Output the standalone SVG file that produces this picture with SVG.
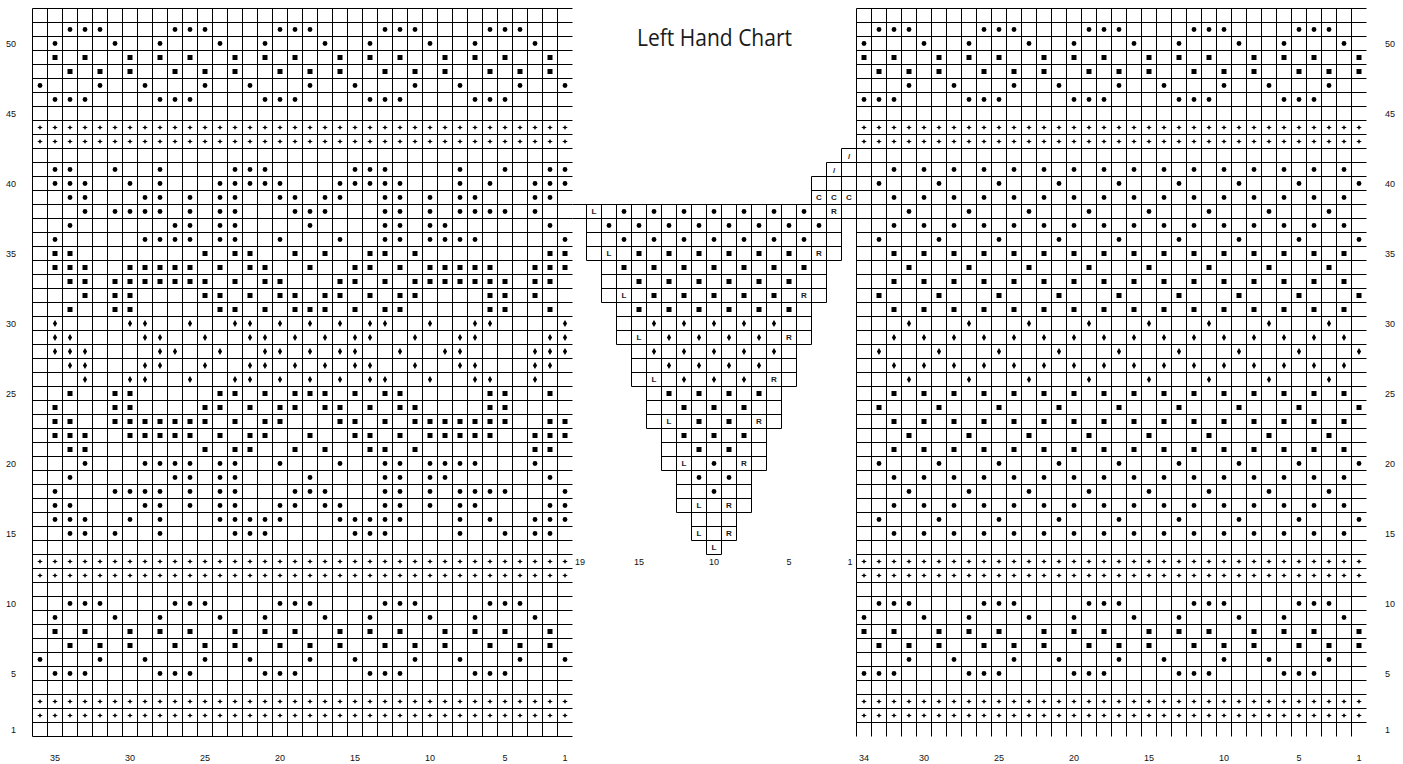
<svg xmlns="http://www.w3.org/2000/svg" xmlns:xlink="http://www.w3.org/1999/xlink" width="1403" height="764" viewBox="0 0 1403 764">
<style>
.g{fill:none;stroke:#000;stroke-width:1}
.lb{font-family:"Liberation Sans",Arial,sans-serif;font-size:9px;fill:#111}
.le{text-anchor:end}
.lc{text-anchor:middle}
.t{font-family:"Liberation Sans",Arial,sans-serif;font-size:8px;font-weight:bold;fill:#1a1a1a;text-anchor:middle}
.ti{font-family:"Open Sans","Noto Sans",sans-serif;font-size:23px;fill:#1a1a1a}
</style>
<defs>
<circle id="d" r="2.4"/>
<rect id="s" x="-2.5" y="-2.5" width="5" height="5"/>
<path id="v" d="M0-3.4L2.1 0 0 3.4-2.1 0Z"/>
<path id="x" d="M-2.9 0L-.9-.8 0-2.6.9-.8 2.9 0 .9.8 0 2.6-.9.8Z"/>
<g id="x6"><use href="#x"/><use href="#x" x="15"/><use href="#x" x="30"/><use href="#x" x="45"/><use href="#x" x="60"/><use href="#x" x="75"/></g>
<g id="xL"><use href="#x6" x="40"/><use href="#x6" x="130"/><use href="#x6" x="220"/><use href="#x6" x="310"/><use href="#x6" x="400"/><use href="#x6" x="490"/></g>
<g id="xR"><use href="#x6" x="864"/><use href="#x6" x="954"/><use href="#x6" x="1044"/><use href="#x6" x="1134"/><use href="#x6" x="1224"/><use href="#x" x="1314"/><use href="#x" x="1329"/><use href="#x" x="1344"/><use href="#x" x="1359"/></g>
<g id="mL">
<use href="#d" x="30"/><use href="#d" x="45"/><use href="#d" x="60"/>
<use href="#d" x="15" y="14"/><use href="#d" x="75" y="14"/>
<use href="#s" x="15" y="28"/><use href="#s" x="45" y="28"/><use href="#s" x="90" y="28"/>
<use href="#s" x="30" y="42"/><use href="#s" x="60" y="42"/><use href="#s" x="90" y="42"/>
<use href="#d" y="56"/><use href="#d" x="60" y="56"/>
<use href="#d" x="15" y="70"/><use href="#d" x="30" y="70"/><use href="#d" x="45" y="70"/>
</g>
<g id="bandL"><use href="#mL" x="40"/><use href="#mL" x="145"/><use href="#mL" x="250"/><use href="#mL" x="355"/><use href="#mL" x="460"/><use href="#d" x="565" y="56"/></g>
<g id="mR">
<use href="#d" x="15"/><use href="#d" x="30"/><use href="#d" x="45"/>
<use href="#d" y="14"/><use href="#d" x="60" y="14"/>
<use href="#s" y="28"/><use href="#s" x="30" y="28"/><use href="#s" x="75" y="28"/>
<use href="#s" x="15" y="42"/><use href="#s" x="45" y="42"/><use href="#s" x="75" y="42"/>
<use href="#d" x="45" y="56"/><use href="#d" x="90" y="56"/>
<use href="#d" y="70"/><use href="#d" x="15" y="70"/><use href="#d" x="30" y="70"/>
</g>
<g id="bandR"><use href="#mR" x="864"/><use href="#mR" x="969"/><use href="#mR" x="1074"/><use href="#mR" x="1179"/>
<use href="#d" x="1299"/><use href="#d" x="1314"/><use href="#d" x="1329"/>
<use href="#d" x="1284" y="14"/><use href="#d" x="1344" y="14"/>
<use href="#s" x="1284" y="28"/><use href="#s" x="1314" y="28"/><use href="#s" x="1359" y="28"/>
<use href="#s" x="1299" y="42"/><use href="#s" x="1329" y="42"/><use href="#s" x="1359" y="42"/>
<use href="#d" x="1329" y="56"/>
<use href="#d" x="1284" y="70"/><use href="#d" x="1299" y="70"/><use href="#d" x="1314" y="70"/>
</g>
<g id="eD"><use href="#d" x="894"/><use href="#d" x="924"/><use href="#d" x="954"/><use href="#d" x="984"/><use href="#d" x="1014"/><use href="#d" x="1044"/><use href="#d" x="1074"/><use href="#d" x="1104"/><use href="#d" x="1134"/><use href="#d" x="1164"/><use href="#d" x="1194"/><use href="#d" x="1224"/><use href="#d" x="1254"/><use href="#d" x="1284"/><use href="#d" x="1314"/><use href="#d" x="1344"/></g>
<g id="aD"><use href="#d" x="879"/><use href="#d" x="939"/><use href="#d" x="999"/><use href="#d" x="1059"/><use href="#d" x="1119"/><use href="#d" x="1179"/><use href="#d" x="1239"/><use href="#d" x="1299"/><use href="#d" x="1359"/></g>
<g id="bD"><use href="#d" x="909"/><use href="#d" x="969"/><use href="#d" x="1029"/><use href="#d" x="1089"/><use href="#d" x="1149"/><use href="#d" x="1209"/><use href="#d" x="1269"/><use href="#d" x="1329"/></g>
<g id="eS"><use href="#s" x="894"/><use href="#s" x="924"/><use href="#s" x="954"/><use href="#s" x="984"/><use href="#s" x="1014"/><use href="#s" x="1044"/><use href="#s" x="1074"/><use href="#s" x="1104"/><use href="#s" x="1134"/><use href="#s" x="1164"/><use href="#s" x="1194"/><use href="#s" x="1224"/><use href="#s" x="1254"/><use href="#s" x="1284"/><use href="#s" x="1314"/><use href="#s" x="1344"/></g>
<g id="aS"><use href="#s" x="879"/><use href="#s" x="939"/><use href="#s" x="999"/><use href="#s" x="1059"/><use href="#s" x="1119"/><use href="#s" x="1179"/><use href="#s" x="1239"/><use href="#s" x="1299"/><use href="#s" x="1359"/></g>
<g id="bS"><use href="#s" x="909"/><use href="#s" x="969"/><use href="#s" x="1029"/><use href="#s" x="1089"/><use href="#s" x="1149"/><use href="#s" x="1209"/><use href="#s" x="1269"/><use href="#s" x="1329"/></g>
<g id="eV"><use href="#v" x="894"/><use href="#v" x="924"/><use href="#v" x="954"/><use href="#v" x="984"/><use href="#v" x="1014"/><use href="#v" x="1044"/><use href="#v" x="1074"/><use href="#v" x="1104"/><use href="#v" x="1134"/><use href="#v" x="1164"/><use href="#v" x="1194"/><use href="#v" x="1224"/><use href="#v" x="1254"/><use href="#v" x="1284"/><use href="#v" x="1314"/><use href="#v" x="1344"/></g>
<g id="aV"><use href="#v" x="879"/><use href="#v" x="939"/><use href="#v" x="999"/><use href="#v" x="1059"/><use href="#v" x="1119"/><use href="#v" x="1179"/><use href="#v" x="1239"/><use href="#v" x="1299"/><use href="#v" x="1359"/></g>
<g id="bV"><use href="#v" x="909"/><use href="#v" x="969"/><use href="#v" x="1029"/><use href="#v" x="1089"/><use href="#v" x="1149"/><use href="#v" x="1209"/><use href="#v" x="1269"/><use href="#v" x="1329"/></g>
</defs>
<rect width="1403" height="764" fill="#fff"/>

<g id="title"><text class="ti" x="637" y="46" textLength="155" lengthAdjust="spacingAndGlyphs">Left Hand Chart</text></g>

<g id="left-chart">
<path class="g" d="M32.5 8.5v728m15-728v728m15-728v728m15-728v728m15-728v728m15-728v728m15-728v728m15-728v728m15-728v728m15-728v728m15-728v728m15-728v728m15-728v728m15-728v728m15-728v728m15-728v728m15-728v728m15-728v728m15-728v728m15-728v728m15-728v728m15-728v728m15-728v728m15-728v728m15-728v728m15-728v728m15-728v728m15-728v728m15-728v728m15-728v728m15-728v728m15-728v728m15-728v728m15-728v728m15-728v728m15-728v728"/>
<path class="g" d="M32.5 8.5h540m-540 14h540m-540 14h540m-540 14h540m-540 14h540m-540 14h540m-540 14h540m-540 14h540m-540 14h540m-540 14h540m-540 14h540m-540 14h540m-540 14h540m-540 14h540m-540 14h540m-540 14h540m-540 14h540m-540 14h540m-540 14h540m-540 14h540m-540 14h540m-540 14h540m-540 14h540m-540 14h540m-540 14h540m-540 14h540m-540 14h540m-540 14h540m-540 14h540m-540 14h540m-540 14h540m-540 14h540m-540 14h540m-540 14h540m-540 14h540m-540 14h540m-540 14h540m-540 14h540m-540 14h540m-540 14h540m-540 14h540m-540 14h540m-540 14h540m-540 14h540m-540 14h540m-540 14h540m-540 14h540m-540 14h540m-540 14h540m-540 14h540m-540 14h540m-540 14h540m-540 14h540"/>
<use href="#bandL" y="29.5"/>
<use href="#bandL" y="603.5"/>
<use href="#xL" y="127.5"/><use href="#xL" y="141.5"/>
<use href="#xL" y="561.5"/><use href="#xL" y="575.5"/>
<use href="#xL" y="701.5"/><use href="#xL" y="715.5"/>
<g transform="translate(0,169.5)"><use href="#d" x="55"/><use href="#d" x="70"/><use href="#d" x="115"/><use href="#d" x="160"/><use href="#d" x="235"/><use href="#d" x="250"/><use href="#d" x="265"/><use href="#d" x="355"/><use href="#d" x="370"/><use href="#d" x="385"/><use href="#d" x="460"/><use href="#d" x="505"/><use href="#d" x="550"/><use href="#d" x="565"/></g>
<g transform="translate(0,183.5)"><use href="#d" x="55"/><use href="#d" x="70"/><use href="#d" x="85"/><use href="#d" x="130"/><use href="#d" x="160"/><use href="#d" x="220"/><use href="#d" x="235"/><use href="#d" x="250"/><use href="#d" x="265"/><use href="#d" x="280"/><use href="#d" x="340"/><use href="#d" x="355"/><use href="#d" x="370"/><use href="#d" x="385"/><use href="#d" x="400"/><use href="#d" x="460"/><use href="#d" x="490"/><use href="#d" x="535"/><use href="#d" x="550"/><use href="#d" x="565"/></g>
<g transform="translate(0,197.5)"><use href="#d" x="70"/><use href="#d" x="85"/><use href="#d" x="145"/><use href="#d" x="160"/><use href="#d" x="190"/><use href="#d" x="220"/><use href="#d" x="235"/><use href="#d" x="280"/><use href="#d" x="295"/><use href="#d" x="325"/><use href="#d" x="340"/><use href="#d" x="385"/><use href="#d" x="400"/><use href="#d" x="430"/><use href="#d" x="460"/><use href="#d" x="475"/><use href="#d" x="535"/><use href="#d" x="550"/></g>
<g transform="translate(0,211.5)"><use href="#d" x="85"/><use href="#d" x="115"/><use href="#d" x="130"/><use href="#d" x="145"/><use href="#d" x="160"/><use href="#d" x="190"/><use href="#d" x="220"/><use href="#d" x="235"/><use href="#d" x="295"/><use href="#d" x="310"/><use href="#d" x="325"/><use href="#d" x="385"/><use href="#d" x="400"/><use href="#d" x="430"/><use href="#d" x="460"/><use href="#d" x="475"/><use href="#d" x="490"/><use href="#d" x="505"/><use href="#d" x="535"/></g>
<g transform="translate(0,225.5)"><use href="#d" x="70"/><use href="#d" x="175"/><use href="#d" x="190"/><use href="#d" x="220"/><use href="#d" x="235"/><use href="#d" x="310"/><use href="#d" x="385"/><use href="#d" x="400"/><use href="#d" x="430"/><use href="#d" x="445"/><use href="#d" x="550"/></g>
<g transform="translate(0,239.5)"><use href="#d" x="55"/><use href="#d" x="145"/><use href="#d" x="160"/><use href="#d" x="175"/><use href="#d" x="190"/><use href="#d" x="220"/><use href="#d" x="235"/><use href="#d" x="280"/><use href="#d" x="340"/><use href="#d" x="385"/><use href="#d" x="400"/><use href="#d" x="430"/><use href="#d" x="445"/><use href="#d" x="460"/><use href="#d" x="475"/><use href="#d" x="565"/></g>
<g transform="translate(0,253.5)"><use href="#s" x="55"/><use href="#s" x="70"/><use href="#s" x="205"/><use href="#s" x="235"/><use href="#s" x="250"/><use href="#s" x="295"/><use href="#s" x="325"/><use href="#s" x="370"/><use href="#s" x="385"/><use href="#s" x="415"/><use href="#s" x="550"/><use href="#s" x="565"/></g>
<g transform="translate(0,267.5)"><use href="#s" x="55"/><use href="#s" x="70"/><use href="#s" x="85"/><use href="#s" x="130"/><use href="#s" x="145"/><use href="#s" x="160"/><use href="#s" x="175"/><use href="#s" x="190"/><use href="#s" x="220"/><use href="#s" x="250"/><use href="#s" x="265"/><use href="#s" x="310"/><use href="#s" x="355"/><use href="#s" x="370"/><use href="#s" x="400"/><use href="#s" x="430"/><use href="#s" x="445"/><use href="#s" x="460"/><use href="#s" x="475"/><use href="#s" x="490"/><use href="#s" x="535"/><use href="#s" x="550"/><use href="#s" x="565"/></g>
<g transform="translate(0,281.5)"><use href="#s" x="70"/><use href="#s" x="85"/><use href="#s" x="115"/><use href="#s" x="130"/><use href="#s" x="145"/><use href="#s" x="160"/><use href="#s" x="175"/><use href="#s" x="190"/><use href="#s" x="205"/><use href="#s" x="235"/><use href="#s" x="265"/><use href="#s" x="280"/><use href="#s" x="340"/><use href="#s" x="355"/><use href="#s" x="385"/><use href="#s" x="415"/><use href="#s" x="430"/><use href="#s" x="445"/><use href="#s" x="460"/><use href="#s" x="475"/><use href="#s" x="490"/><use href="#s" x="505"/><use href="#s" x="535"/><use href="#s" x="550"/></g>
<g transform="translate(0,295.5)"><use href="#s" x="85"/><use href="#s" x="115"/><use href="#s" x="130"/><use href="#s" x="205"/><use href="#s" x="220"/><use href="#s" x="250"/><use href="#s" x="280"/><use href="#s" x="295"/><use href="#s" x="325"/><use href="#s" x="340"/><use href="#s" x="370"/><use href="#s" x="400"/><use href="#s" x="415"/><use href="#s" x="490"/><use href="#s" x="505"/><use href="#s" x="535"/></g>
<g transform="translate(0,309.5)"><use href="#s" x="70"/><use href="#s" x="115"/><use href="#s" x="130"/><use href="#s" x="220"/><use href="#s" x="235"/><use href="#s" x="265"/><use href="#s" x="295"/><use href="#s" x="310"/><use href="#s" x="325"/><use href="#s" x="355"/><use href="#s" x="385"/><use href="#s" x="400"/><use href="#s" x="490"/><use href="#s" x="505"/><use href="#s" x="550"/></g>
<g transform="translate(0,323.5)"><use href="#v" x="55"/><use href="#v" x="130"/><use href="#v" x="145"/><use href="#v" x="190"/><use href="#v" x="235"/><use href="#v" x="250"/><use href="#v" x="280"/><use href="#v" x="310"/><use href="#v" x="340"/><use href="#v" x="370"/><use href="#v" x="385"/><use href="#v" x="430"/><use href="#v" x="475"/><use href="#v" x="490"/><use href="#v" x="565"/></g>
<g transform="translate(0,337.5)"><use href="#v" x="55"/><use href="#v" x="70"/><use href="#v" x="145"/><use href="#v" x="160"/><use href="#v" x="205"/><use href="#v" x="250"/><use href="#v" x="265"/><use href="#v" x="295"/><use href="#v" x="325"/><use href="#v" x="355"/><use href="#v" x="370"/><use href="#v" x="415"/><use href="#v" x="460"/><use href="#v" x="475"/><use href="#v" x="550"/><use href="#v" x="565"/></g>
<g transform="translate(0,351.5)"><use href="#v" x="55"/><use href="#v" x="70"/><use href="#v" x="85"/><use href="#v" x="160"/><use href="#v" x="175"/><use href="#v" x="220"/><use href="#v" x="265"/><use href="#v" x="280"/><use href="#v" x="310"/><use href="#v" x="340"/><use href="#v" x="355"/><use href="#v" x="400"/><use href="#v" x="445"/><use href="#v" x="460"/><use href="#v" x="535"/><use href="#v" x="550"/><use href="#v" x="565"/></g>
<g transform="translate(0,365.5)"><use href="#v" x="70"/><use href="#v" x="85"/><use href="#v" x="145"/><use href="#v" x="160"/><use href="#v" x="205"/><use href="#v" x="250"/><use href="#v" x="265"/><use href="#v" x="295"/><use href="#v" x="325"/><use href="#v" x="355"/><use href="#v" x="370"/><use href="#v" x="415"/><use href="#v" x="460"/><use href="#v" x="475"/><use href="#v" x="535"/><use href="#v" x="550"/></g>
<g transform="translate(0,379.5)"><use href="#v" x="85"/><use href="#v" x="130"/><use href="#v" x="145"/><use href="#v" x="190"/><use href="#v" x="235"/><use href="#v" x="250"/><use href="#v" x="280"/><use href="#v" x="310"/><use href="#v" x="340"/><use href="#v" x="370"/><use href="#v" x="385"/><use href="#v" x="430"/><use href="#v" x="475"/><use href="#v" x="490"/><use href="#v" x="535"/></g>
<g transform="translate(0,393.5)"><use href="#s" x="70"/><use href="#s" x="115"/><use href="#s" x="130"/><use href="#s" x="220"/><use href="#s" x="235"/><use href="#s" x="265"/><use href="#s" x="295"/><use href="#s" x="310"/><use href="#s" x="325"/><use href="#s" x="355"/><use href="#s" x="385"/><use href="#s" x="400"/><use href="#s" x="490"/><use href="#s" x="505"/><use href="#s" x="550"/></g>
<g transform="translate(0,407.5)"><use href="#s" x="55"/><use href="#s" x="115"/><use href="#s" x="130"/><use href="#s" x="205"/><use href="#s" x="220"/><use href="#s" x="250"/><use href="#s" x="280"/><use href="#s" x="295"/><use href="#s" x="325"/><use href="#s" x="340"/><use href="#s" x="370"/><use href="#s" x="400"/><use href="#s" x="415"/><use href="#s" x="490"/><use href="#s" x="505"/></g>
<g transform="translate(0,421.5)"><use href="#s" x="55"/><use href="#s" x="70"/><use href="#s" x="115"/><use href="#s" x="130"/><use href="#s" x="145"/><use href="#s" x="160"/><use href="#s" x="175"/><use href="#s" x="190"/><use href="#s" x="205"/><use href="#s" x="235"/><use href="#s" x="265"/><use href="#s" x="280"/><use href="#s" x="340"/><use href="#s" x="355"/><use href="#s" x="385"/><use href="#s" x="415"/><use href="#s" x="430"/><use href="#s" x="445"/><use href="#s" x="460"/><use href="#s" x="475"/><use href="#s" x="490"/><use href="#s" x="505"/><use href="#s" x="550"/><use href="#s" x="565"/></g>
<g transform="translate(0,435.5)"><use href="#s" x="55"/><use href="#s" x="70"/><use href="#s" x="85"/><use href="#s" x="130"/><use href="#s" x="145"/><use href="#s" x="160"/><use href="#s" x="175"/><use href="#s" x="190"/><use href="#s" x="220"/><use href="#s" x="250"/><use href="#s" x="265"/><use href="#s" x="310"/><use href="#s" x="355"/><use href="#s" x="370"/><use href="#s" x="400"/><use href="#s" x="430"/><use href="#s" x="445"/><use href="#s" x="460"/><use href="#s" x="475"/><use href="#s" x="490"/><use href="#s" x="535"/><use href="#s" x="550"/><use href="#s" x="565"/></g>
<g transform="translate(0,449.5)"><use href="#s" x="70"/><use href="#s" x="85"/><use href="#s" x="205"/><use href="#s" x="235"/><use href="#s" x="250"/><use href="#s" x="295"/><use href="#s" x="325"/><use href="#s" x="370"/><use href="#s" x="385"/><use href="#s" x="415"/><use href="#s" x="535"/><use href="#s" x="550"/></g>
<g transform="translate(0,463.5)"><use href="#d" x="85"/><use href="#d" x="145"/><use href="#d" x="160"/><use href="#d" x="175"/><use href="#d" x="190"/><use href="#d" x="220"/><use href="#d" x="235"/><use href="#d" x="280"/><use href="#d" x="340"/><use href="#d" x="385"/><use href="#d" x="400"/><use href="#d" x="430"/><use href="#d" x="445"/><use href="#d" x="460"/><use href="#d" x="475"/><use href="#d" x="535"/></g>
<g transform="translate(0,477.5)"><use href="#d" x="70"/><use href="#d" x="175"/><use href="#d" x="190"/><use href="#d" x="220"/><use href="#d" x="235"/><use href="#d" x="310"/><use href="#d" x="385"/><use href="#d" x="400"/><use href="#d" x="430"/><use href="#d" x="445"/><use href="#d" x="550"/></g>
<g transform="translate(0,491.5)"><use href="#d" x="55"/><use href="#d" x="115"/><use href="#d" x="130"/><use href="#d" x="145"/><use href="#d" x="160"/><use href="#d" x="190"/><use href="#d" x="220"/><use href="#d" x="235"/><use href="#d" x="295"/><use href="#d" x="310"/><use href="#d" x="325"/><use href="#d" x="385"/><use href="#d" x="400"/><use href="#d" x="430"/><use href="#d" x="460"/><use href="#d" x="475"/><use href="#d" x="490"/><use href="#d" x="505"/><use href="#d" x="565"/></g>
<g transform="translate(0,505.5)"><use href="#d" x="55"/><use href="#d" x="70"/><use href="#d" x="145"/><use href="#d" x="160"/><use href="#d" x="190"/><use href="#d" x="220"/><use href="#d" x="235"/><use href="#d" x="280"/><use href="#d" x="295"/><use href="#d" x="325"/><use href="#d" x="340"/><use href="#d" x="385"/><use href="#d" x="400"/><use href="#d" x="430"/><use href="#d" x="460"/><use href="#d" x="475"/><use href="#d" x="550"/><use href="#d" x="565"/></g>
<g transform="translate(0,519.5)"><use href="#d" x="55"/><use href="#d" x="70"/><use href="#d" x="85"/><use href="#d" x="130"/><use href="#d" x="160"/><use href="#d" x="220"/><use href="#d" x="235"/><use href="#d" x="250"/><use href="#d" x="265"/><use href="#d" x="280"/><use href="#d" x="340"/><use href="#d" x="355"/><use href="#d" x="370"/><use href="#d" x="385"/><use href="#d" x="400"/><use href="#d" x="460"/><use href="#d" x="490"/><use href="#d" x="535"/><use href="#d" x="550"/><use href="#d" x="565"/></g>
<g transform="translate(0,533.5)"><use href="#d" x="70"/><use href="#d" x="85"/><use href="#d" x="115"/><use href="#d" x="160"/><use href="#d" x="235"/><use href="#d" x="250"/><use href="#d" x="265"/><use href="#d" x="355"/><use href="#d" x="370"/><use href="#d" x="385"/><use href="#d" x="460"/><use href="#d" x="505"/><use href="#d" x="535"/><use href="#d" x="550"/></g>
</g>

<g id="middle-chart">
<path class="g" d="M841.5 148.5h15M841.5 162.5h15M841.5 148.5v14M826.5 162.5h30M826.5 176.5h30M826.5 162.5v14M841.5 162.5v14M811.5 176.5h45M811.5 190.5h45M811.5 204.5h45M811.5 176.5v28M826.5 176.5v28M841.5 176.5v28"/>
<path class="g" d="M572.5 204.5h284M572.5 218.5h284M586.5 204.5v14m15-14v14m15-14v14m15-14v14m15-14v14m15-14v14m15-14v14m15-14v14m15-14v14m15-14v14m15-14v14m15-14v14m15-14v14m15-14v14m15-14v14m15-14v14m15-14v14m15-14v14"/>
<path class="g" d="M586.5 218.5h255m-255 14h255m-255 14h255m-255 14h255M586.5 218.5v42m15-42v42m15-42v42m15-42v42m15-42v42m15-42v42m15-42v42m15-42v42m15-42v42m15-42v42m15-42v42m15-42v42m15-42v42m15-42v42m15-42v42m15-42v42m15-42v42m15-42v42"/>
<path class="g" d="M601.5 260.5h225m-225 14h225m-225 14h225m-225 14h225M601.5 260.5v42m15-42v42m15-42v42m15-42v42m15-42v42m15-42v42m15-42v42m15-42v42m15-42v42m15-42v42m15-42v42m15-42v42m15-42v42m15-42v42m15-42v42m15-42v42"/>
<path class="g" d="M616.5 302.5h195m-195 14h195m-195 14h195m-195 14h195M616.5 302.5v42m15-42v42m15-42v42m15-42v42m15-42v42m15-42v42m15-42v42m15-42v42m15-42v42m15-42v42m15-42v42m15-42v42m15-42v42m15-42v42"/>
<path class="g" d="M631.5 344.5h165m-165 14h165m-165 14h165m-165 14h165M631.5 344.5v42m15-42v42m15-42v42m15-42v42m15-42v42m15-42v42m15-42v42m15-42v42m15-42v42m15-42v42m15-42v42m15-42v42"/>
<path class="g" d="M646.5 386.5h135m-135 14h135m-135 14h135m-135 14h135M646.5 386.5v42m15-42v42m15-42v42m15-42v42m15-42v42m15-42v42m15-42v42m15-42v42m15-42v42m15-42v42"/>
<path class="g" d="M661.5 428.5h105m-105 14h105m-105 14h105m-105 14h105M661.5 428.5v42m15-42v42m15-42v42m15-42v42m15-42v42m15-42v42m15-42v42m15-42v42"/>
<path class="g" d="M676.5 470.5h75m-75 14h75m-75 14h75m-75 14h75M676.5 470.5v42m15-42v42m15-42v42m15-42v42m15-42v42m15-42v42"/>
<path class="g" d="M691.5 512.5h45m-45 14h45m-45 14h45M691.5 512.5v28m15-28v28m15-28v28m15-28v28"/>
<path class="g" d="M706.5 540.5h15m-15 14h15M706.5 540.5v14m15-14v14"/>
<text class="t" x="849" y="158.5">/</text>
<text class="t" x="834" y="172.5">/</text>
<text class="t" x="819" y="200.4">C</text><text class="t" x="834" y="200.4">C</text><text class="t" x="849" y="200.4">C</text>
<g transform="translate(0,211.5)"><use href="#d" x="624"/><use href="#d" x="654"/><use href="#d" x="684"/><use href="#d" x="714"/><use href="#d" x="744"/><use href="#d" x="774"/><use href="#d" x="804"/></g>
<text class="t" x="594" y="214.4">L</text><text class="t" x="834" y="214.4">R</text>
<g transform="translate(0,225.5)"><use href="#d" x="609"/><use href="#d" x="639"/><use href="#d" x="669"/><use href="#d" x="699"/><use href="#d" x="729"/><use href="#d" x="759"/><use href="#d" x="789"/><use href="#d" x="819"/></g>
<g transform="translate(0,239.5)"><use href="#d" x="624"/><use href="#d" x="654"/><use href="#d" x="684"/><use href="#d" x="714"/><use href="#d" x="744"/><use href="#d" x="774"/><use href="#d" x="804"/></g>
<g transform="translate(0,253.5)"><use href="#s" x="639"/><use href="#s" x="669"/><use href="#s" x="699"/><use href="#s" x="729"/><use href="#s" x="759"/><use href="#s" x="789"/></g>
<text class="t" x="609" y="256.4">L</text><text class="t" x="819" y="256.4">R</text>
<g transform="translate(0,267.5)"><use href="#s" x="624"/><use href="#s" x="654"/><use href="#s" x="684"/><use href="#s" x="714"/><use href="#s" x="744"/><use href="#s" x="774"/><use href="#s" x="804"/></g>
<g transform="translate(0,281.5)"><use href="#s" x="639"/><use href="#s" x="669"/><use href="#s" x="699"/><use href="#s" x="729"/><use href="#s" x="759"/><use href="#s" x="789"/></g>
<g transform="translate(0,295.5)"><use href="#s" x="654"/><use href="#s" x="684"/><use href="#s" x="714"/><use href="#s" x="744"/><use href="#s" x="774"/></g>
<text class="t" x="624" y="298.4">L</text><text class="t" x="804" y="298.4">R</text>
<g transform="translate(0,309.5)"><use href="#s" x="639"/><use href="#s" x="669"/><use href="#s" x="699"/><use href="#s" x="729"/><use href="#s" x="759"/><use href="#s" x="789"/></g>
<g transform="translate(0,323.5)"><use href="#v" x="654"/><use href="#v" x="684"/><use href="#v" x="714"/><use href="#v" x="744"/><use href="#v" x="774"/></g>
<g transform="translate(0,337.5)"><use href="#v" x="669"/><use href="#v" x="699"/><use href="#v" x="729"/><use href="#v" x="759"/></g>
<text class="t" x="639" y="340.4">L</text><text class="t" x="789" y="340.4">R</text>
<g transform="translate(0,351.5)"><use href="#v" x="654"/><use href="#v" x="684"/><use href="#v" x="714"/><use href="#v" x="744"/><use href="#v" x="774"/></g>
<g transform="translate(0,365.5)"><use href="#v" x="669"/><use href="#v" x="699"/><use href="#v" x="729"/><use href="#v" x="759"/></g>
<g transform="translate(0,379.5)"><use href="#v" x="684"/><use href="#v" x="714"/><use href="#v" x="744"/></g>
<text class="t" x="654" y="382.4">L</text><text class="t" x="774" y="382.4">R</text>
<g transform="translate(0,393.5)"><use href="#s" x="669"/><use href="#s" x="699"/><use href="#s" x="729"/><use href="#s" x="759"/></g>
<g transform="translate(0,407.5)"><use href="#s" x="684"/><use href="#s" x="714"/><use href="#s" x="744"/></g>
<g transform="translate(0,421.5)"><use href="#s" x="699"/><use href="#s" x="729"/></g>
<text class="t" x="669" y="424.4">L</text><text class="t" x="759" y="424.4">R</text>
<g transform="translate(0,435.5)"><use href="#s" x="684"/><use href="#s" x="714"/><use href="#s" x="744"/></g>
<g transform="translate(0,449.5)"><use href="#s" x="699"/><use href="#s" x="729"/></g>
<use href="#d" x="714" y="463.5"/>
<text class="t" x="684" y="466.4">L</text><text class="t" x="744" y="466.4">R</text>
<use href="#d" x="699" y="477.5"/><use href="#d" x="729" y="477.5"/>
<use href="#d" x="714" y="491.5"/>
<text class="t" x="699" y="508.4">L</text><text class="t" x="729" y="508.4">R</text>
<text class="t" x="699" y="536.4">L</text><text class="t" x="729" y="536.4">R</text>
<text class="t" x="714" y="550.4">L</text>
</g>

<g id="right-chart">
<path class="g" d="M856.5 8.5v728m15-728v728m15-728v728m15-728v728m15-728v728m15-728v728m15-728v728m15-728v728m15-728v728m15-728v728m15-728v728m15-728v728m15-728v728m15-728v728m15-728v728m15-728v728m15-728v728m15-728v728m15-728v728m15-728v728m15-728v728m15-728v728m15-728v728m15-728v728m15-728v728m15-728v728m15-728v728m15-728v728m15-728v728m15-728v728m15-728v728m15-728v728m15-728v728m15-728v728"/>
<path class="g" d="M856.5 8.5h510m-510 14h510m-510 14h510m-510 14h510m-510 14h510m-510 14h510m-510 14h510m-510 14h510m-510 14h510m-510 14h510m-510 14h510m-510 14h510m-510 14h510m-510 14h510m-510 14h510m-510 14h510m-510 14h510m-510 14h510m-510 14h510m-510 14h510m-510 14h510m-510 14h510m-510 14h510m-510 14h510m-510 14h510m-510 14h510m-510 14h510m-510 14h510m-510 14h510m-510 14h510m-510 14h510m-510 14h510m-510 14h510m-510 14h510m-510 14h510m-510 14h510m-510 14h510m-510 14h510m-510 14h510m-510 14h510m-510 14h510m-510 14h510m-510 14h510m-510 14h510m-510 14h510m-510 14h510m-510 14h510m-510 14h510m-510 14h510m-510 14h510m-510 14h510m-510 14h510"/>
<use href="#bandR" y="29.5"/>
<use href="#bandR" y="603.5"/>
<use href="#xR" y="127.5"/><use href="#xR" y="141.5"/>
<use href="#xR" y="561.5"/><use href="#xR" y="575.5"/>
<use href="#xR" y="701.5"/><use href="#xR" y="715.5"/>
<use href="#eD" y="169.5"/><use href="#aD" y="183.5"/><use href="#eD" y="197.5"/><use href="#bD" y="211.5"/><use href="#eD" y="225.5"/><use href="#aD" y="239.5"/>
<use href="#eS" y="253.5"/><use href="#bS" y="267.5"/><use href="#eS" y="281.5"/><use href="#aS" y="295.5"/><use href="#eS" y="309.5"/>
<use href="#bV" y="323.5"/><use href="#eV" y="337.5"/><use href="#aV" y="351.5"/><use href="#eV" y="365.5"/><use href="#bV" y="379.5"/>
<use href="#eS" y="393.5"/><use href="#aS" y="407.5"/><use href="#eS" y="421.5"/><use href="#bS" y="435.5"/><use href="#eS" y="449.5"/>
<use href="#aD" y="463.5"/><use href="#eD" y="477.5"/><use href="#bD" y="491.5"/><use href="#eD" y="505.5"/><use href="#aD" y="519.5"/><use href="#eD" y="533.5"/>
</g>

<g id="labels">
<g class="lb le">
<text x="16" y="46.5">50</text><text x="16" y="116.5">45</text><text x="16" y="186.5">40</text><text x="16" y="256.5">35</text><text x="16" y="326.5">30</text><text x="16" y="396.5">25</text><text x="16" y="466.5">20</text><text x="16" y="536.5">15</text><text x="16" y="606.5">10</text><text x="16" y="676.5">5</text><text x="16" y="732.5">1</text>
</g>
<g class="lb">
<text x="1385" y="46.5">50</text><text x="1385" y="116.5">45</text><text x="1385" y="186.5">40</text><text x="1385" y="256.5">35</text><text x="1385" y="326.5">30</text><text x="1385" y="396.5">25</text><text x="1385" y="466.5">20</text><text x="1385" y="536.5">15</text><text x="1385" y="606.5">10</text><text x="1385" y="676.5">5</text><text x="1385" y="732.5">1</text>
</g>
<g class="lb lc">
<text x="55" y="761">35</text><text x="130" y="761">30</text><text x="205" y="761">25</text><text x="280" y="761">20</text><text x="355" y="761">15</text><text x="430" y="761">10</text><text x="505" y="761">5</text><text x="565" y="761">1</text>
<text x="864" y="761">34</text><text x="924" y="761">30</text><text x="999" y="761">25</text><text x="1074" y="761">20</text><text x="1149" y="761">15</text><text x="1224" y="761">10</text><text x="1299" y="761">5</text><text x="1359" y="761">1</text>
<text x="580" y="565">19</text><text x="639" y="565">15</text><text x="714" y="565">10</text><text x="789" y="565">5</text><text x="850" y="565">1</text>
</g>
</g>
</svg>
